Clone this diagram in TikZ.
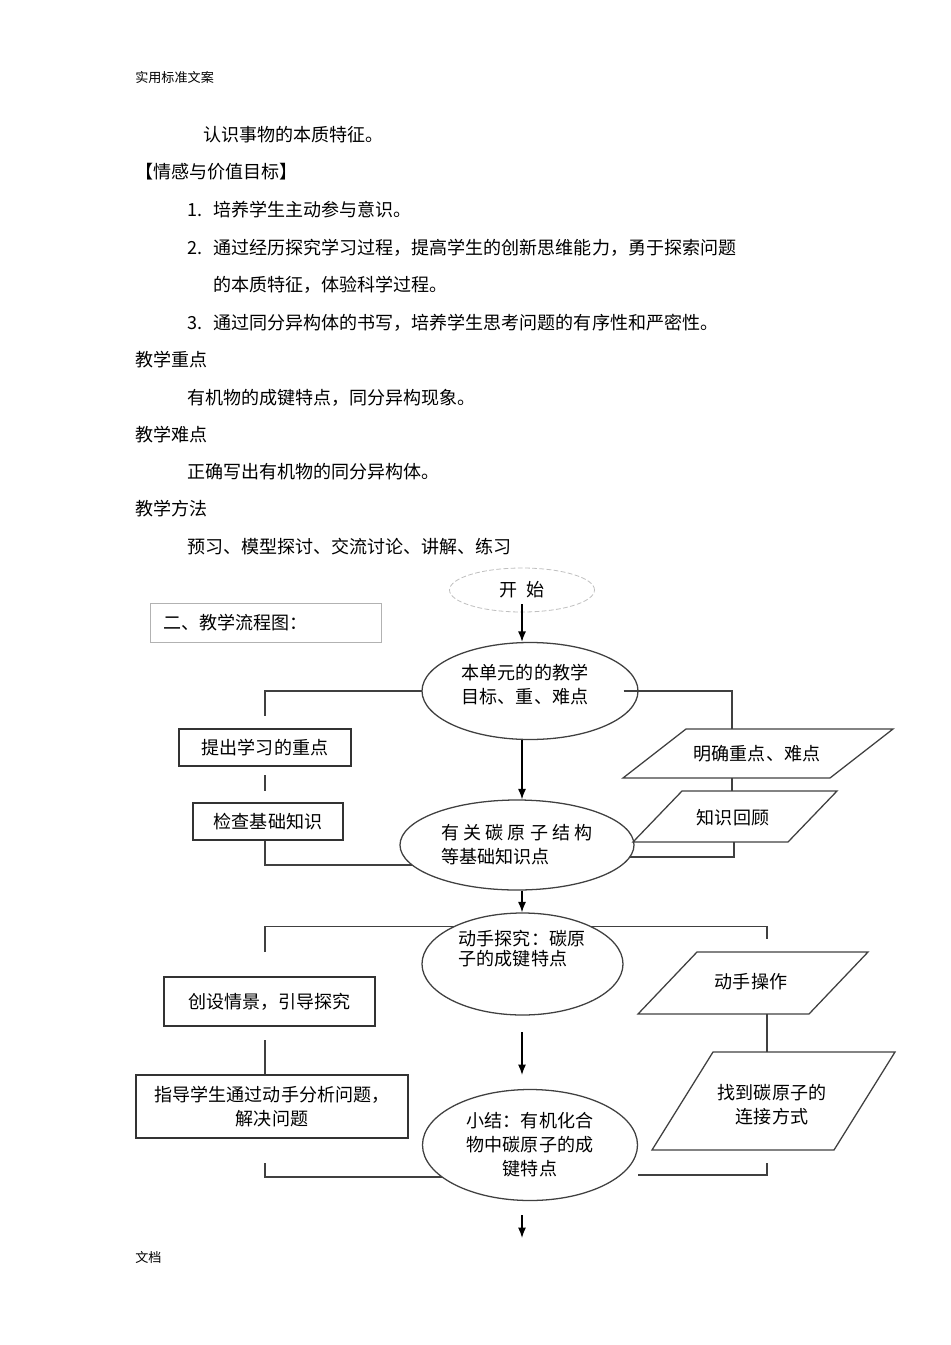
\documentclass[tikz,border=0pt]{standalone}
\usepackage{fontspec}
\setmainfont{Noto Sans CJK SC}
\usetikzlibrary{shapes.geometric,arrows.meta,backgrounds}

\def\pxu{0.6266pt}

\tikzset{
  txt/.style={anchor=west},
  hdr/.style={anchor=west,font=\fontsize{8.2}{10}\selectfont},
  flowbox/.style={draw=black!80,line width=0.8pt,align=center},
  oval/.style={ellipse,draw=black!75,line width=0.8pt,fill=white,align=center},
  link/.style={draw=black!75,line width=0.8pt},
  arr/.style={draw=black,line width=0.9pt,-{Latex[length=6.5pt,width=5pt]}}
}

\begin{document}
\begin{tikzpicture}[x=\pxu,y=-\pxu,
  every node/.style={inner sep=0pt,font=\fontsize{11.3}{15}\selectfont}]
\useasboundingbox (0,0) rectangle (950,1345);

% page text
\node[hdr] (hd) at (135,78) {实用标准文案};
\node[txt] (l1) at (203,135) {认识事物的本质特征。};
\node[txt] (l2) at (135,172) {【情感与价值目标】};
\node[txt] (n1) at (187,210) {1.};
\node[txt] (l3) at (213,210) {培养学生主动参与意识。};
\node[txt] (n2) at (187,248) {2.};
\node[txt] (l4) at (213,248) {通过经历探究学习过程，提高学生的创新思维能力，勇于探索问题};
\node[txt] (l5) at (213,285) {的本质特征，体验科学过程。};
\node[txt] (n3) at (187,323) {3.};
\node[txt] (l6) at (213,323) {通过同分异构体的书写，培养学生思考问题的有序性和严密性。};
\node[txt] (l7) at (135,360) {教学重点};
\node[txt] (l8) at (187,398) {有机物的成键特点，同分异构现象。};
\node[txt] (l9) at (135,435) {教学难点};
\node[txt] (l10) at (187,472) {正确写出有机物的同分异构体。};
\node[txt] (l11) at (135,509) {教学方法};
\node[txt] (l12) at (187,547) {预习、模型探讨、交流讨论、讲解、练习};
\node[hdr] (ft) at (135,1257) {文档};

% flow chart
\node[draw=black!30,line width=0.5pt,anchor=west,align=left,text width=205*\pxu,
  inner xsep=13*\pxu,minimum height=39*\pxu] (ttl) at (150,622.5) {二、教学流程图：};
\node[oval,draw=black!25,line width=0.5pt,dash pattern=on 3pt off 1.5pt,
  minimum width=145*\pxu,minimum height=44*\pxu] (s) at (522,590) {开\hspace{0.5em}始};

\node[oval,minimum width=216*\pxu,minimum height=97*\pxu] (e1) at (530,691) {};
\node[align=center] (e1t) at (525,685) {本单元的的教学\\目标、重、难点};
\node[oval,minimum width=234*\pxu,minimum height=90*\pxu,align=left] (e2) at (517,845) {有 关 碳 原 子 结 构\\等基础知识点};
\node[oval,minimum width=201*\pxu,minimum height=102*\pxu] (e3) at (522.5,964) {};
\node[align=left,font=\fontsize{11.3}{12.5}\selectfont] (e3t) at (522,949) {动手探究：碳原\\子的成键特点};
\node[oval,minimum width=215*\pxu,minimum height=111*\pxu] (e4) at (530,1145) {小结：有机化合\\物中碳原子的成\\键特点};

\node[flowbox,minimum width=172*\pxu,minimum height=37*\pxu] (b1) at (265,747.5) {提出学习的重点};
\node[flowbox,minimum width=150*\pxu,minimum height=37*\pxu] (b2) at (268,821.5) {检查基础知识};
\node[flowbox,minimum width=211*\pxu,minimum height=49*\pxu] (b3) at (269.5,1001.5) {创设情景，引导探究};
\node[flowbox,minimum width=272*\pxu,minimum height=63*\pxu] (b4) at (272,1106.5) {指导学生通过动手分析问题，\\解决问题};

% parallelograms
\draw[link] (623,778) -- (686,729) -- (893,729) -- (830,778) -- cycle;
\node (p1) at (757,754) {明确重点、难点};
\draw[link] (633,842) -- (682,791) -- (837,791) -- (788,842) -- cycle;
\node (p2) at (733,818) {知识回顾};
\draw[link] (638,1014) -- (697,952) -- (868,952) -- (809,1014) -- cycle;
\node (p3) at (751,982) {动手操作};
\draw[link] (652,1150) -- (713,1052) -- (895,1052) -- (834,1150) -- cycle;
\node[align=center] (p4) at (772,1104.5) {找到碳原子的\\连接方式};

\coordinate (p1t) at (732,729);
\coordinate (p1b) at (732,778);
\coordinate (p2t) at (732,791);
\coordinate (p2b) at (734,842);
\coordinate (p3b) at (767,1014);
\coordinate (p4t) at (767,1052);

% loose ends
\coordinate (k1) at (265,716);
\coordinate (k2) at (265,775);
\coordinate (k3) at (265,791);
\coordinate (k4) at (440,865);
\coordinate (k5) at (600,857);
\coordinate (k6) at (265,952);
\coordinate (k8) at (767,939);
\coordinate (k9) at (265,1040);
\coordinate (k10) at (265,1163);
\coordinate (k11) at (470,1177);
\coordinate (k12) at (522,1032);
\coordinate (k13) at (522,1075);
\coordinate (k14) at (767,1163);
\coordinate (k15) at (638,1175);
\coordinate (k16) at (522,1215);
\coordinate (k17) at (522,1238);

\begin{scope}[on background layer]
\draw[link] (e1.center) -| (k1);
\draw[link] (k1 |- b2.south) |- (k4);
\draw[link] (p2b) |- (k5);
\draw[link] (k6) |- ([yshift=-14*\pxu]e3.north) -| (k8);
\draw[link] (k10) |- (k11);
\end{scope}

\draw[link] (k2) -- (k3);
\draw[link] ([xshift=-15*\pxu]e1.east) -| (p1t);
\draw[link] (p1b) -- (p2t);
\draw[link] (p3b) -- (p4t);
\draw[link] (k9) -- (k9 |- b4.north);
\draw[link] (k14) |- (k15);

\draw[arr] ([yshift=8*\pxu]s.south) -- (s.south |- e1.north);
\draw[arr] (s.south |- e1.south) -- (s.south |- e2.north);
\draw[arr] (s.south |- e2.south) -- (s.south |- e3.north);
\draw[arr] (k12) -- (k13);
\draw[arr] (k16) -- (k17);
\end{tikzpicture}
\end{document}
